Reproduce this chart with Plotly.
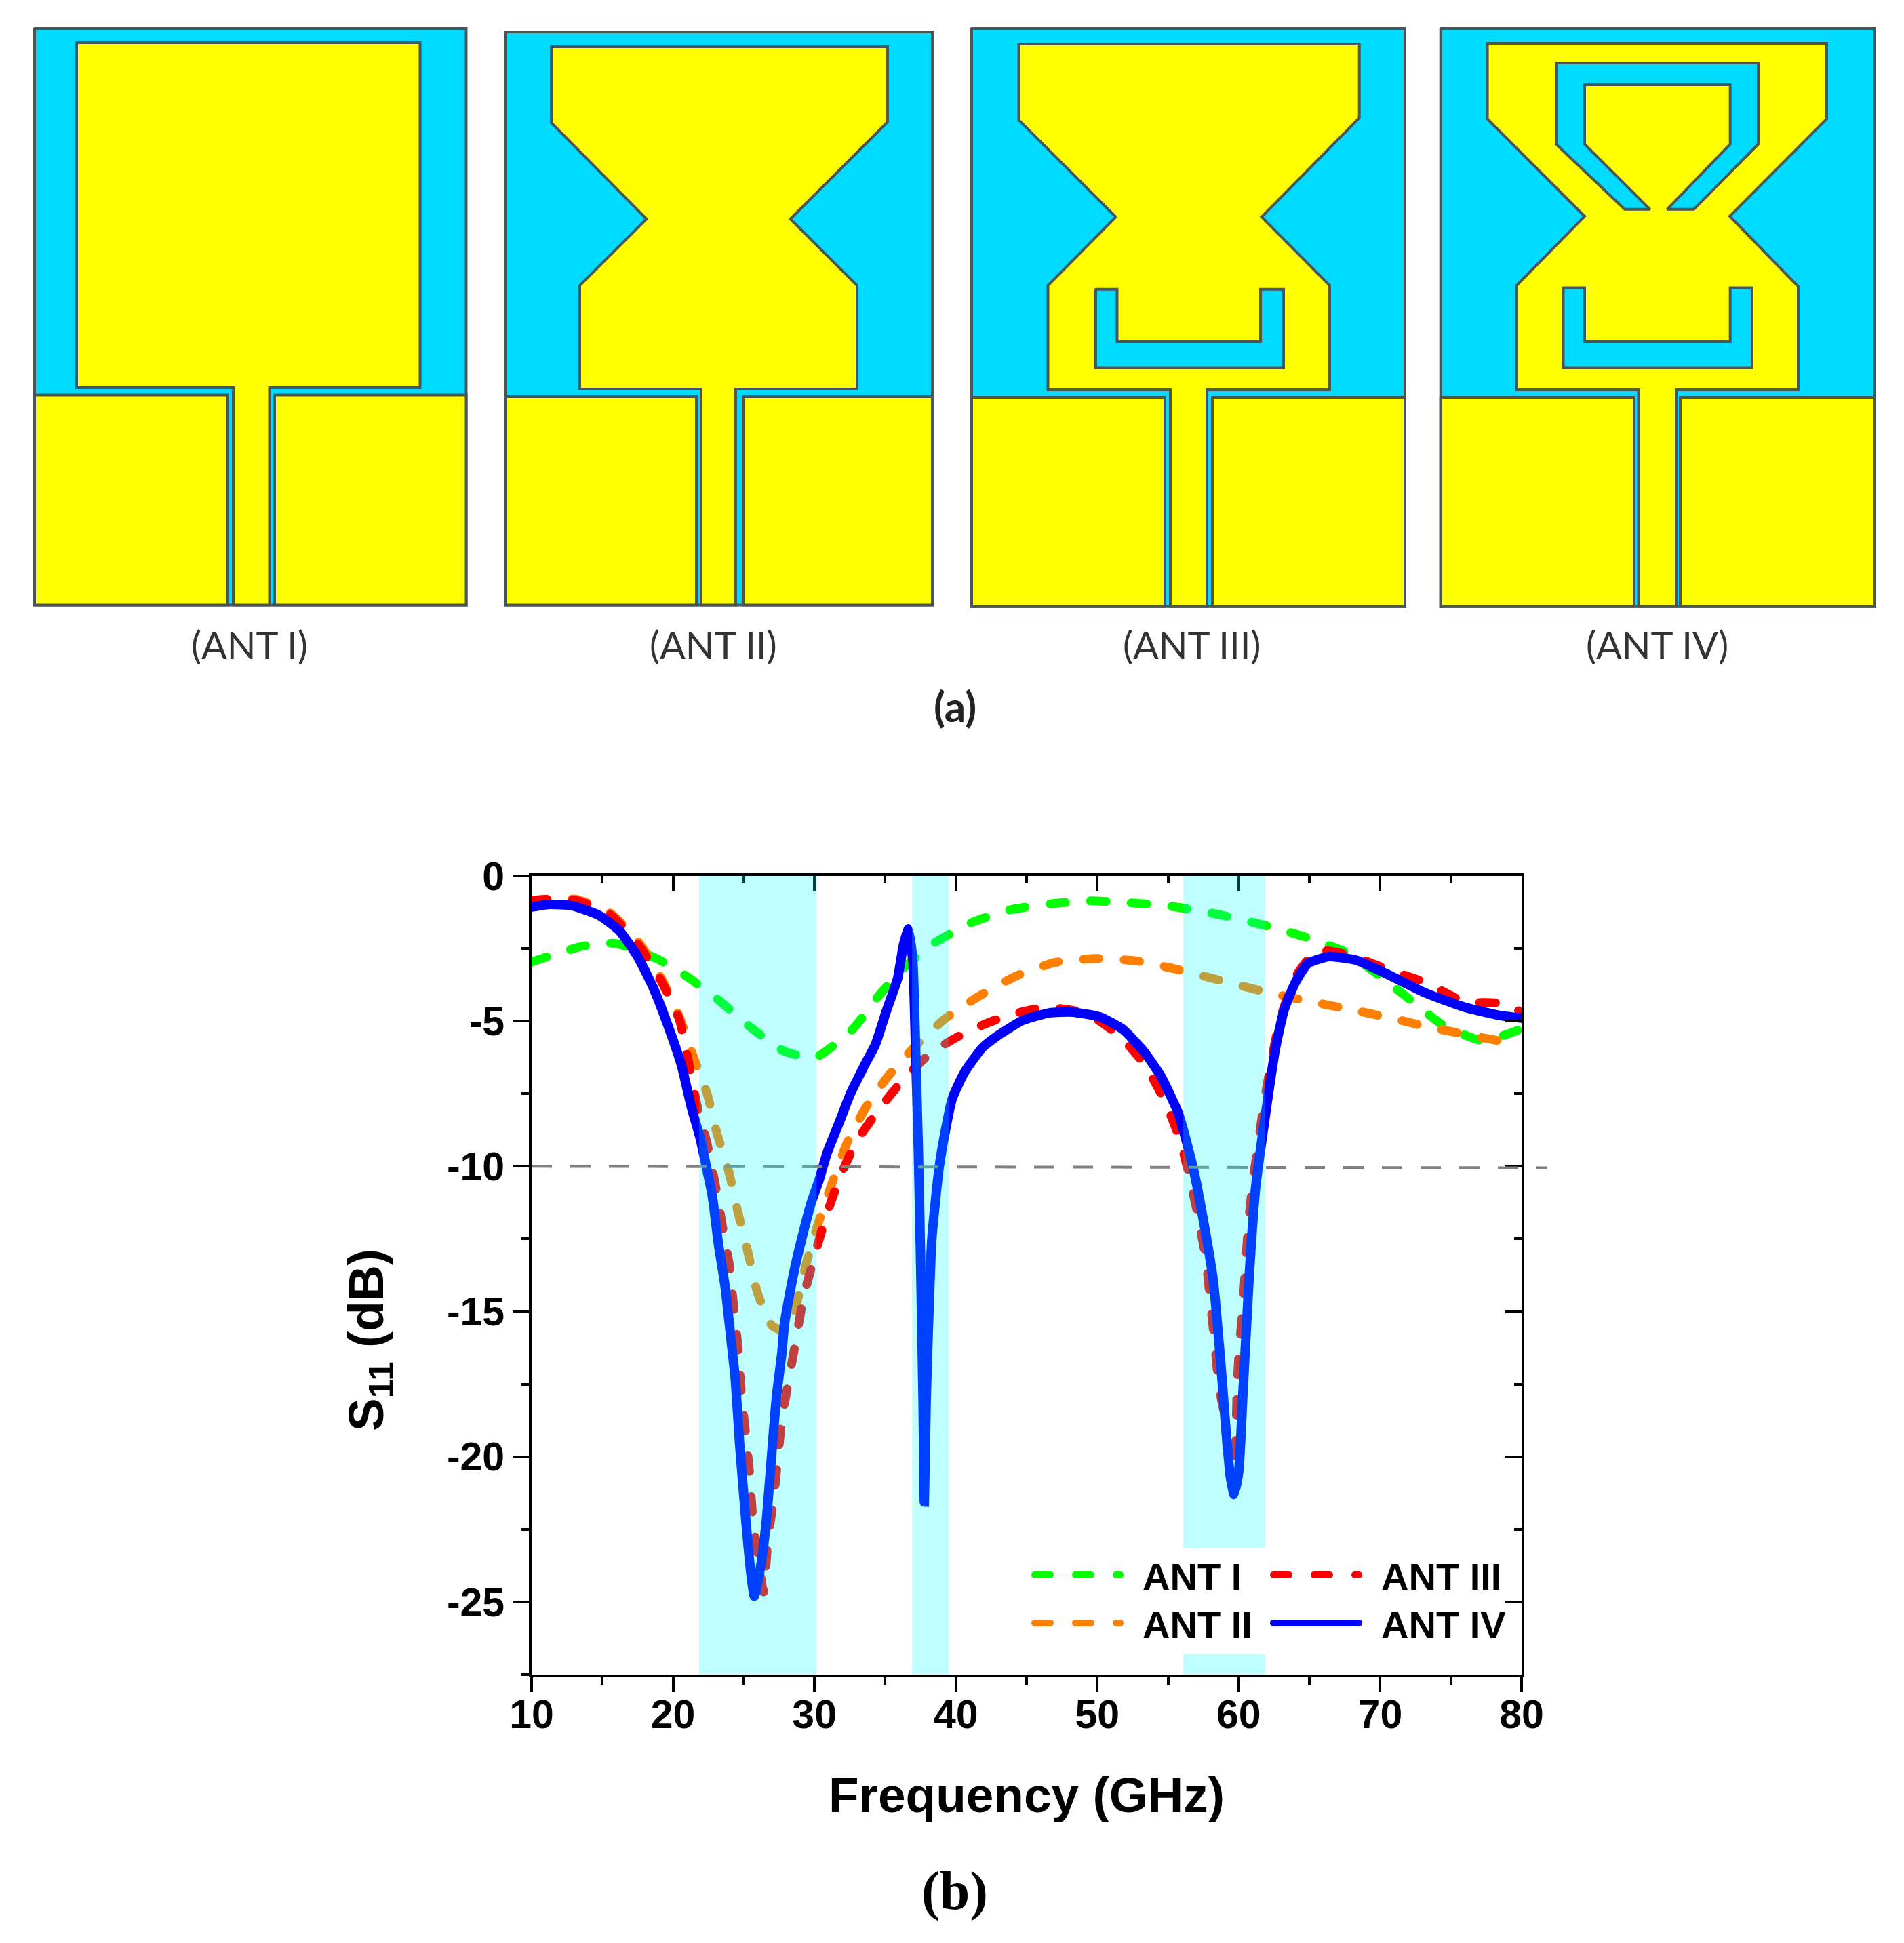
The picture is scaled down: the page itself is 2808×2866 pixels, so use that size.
import plotly.graph_objects as go

# ======================
# Measured S11 curves (frequency in GHz, level in dB)
# ======================
freq_1 = [10, 13.6, 15.9, 18.9, 21.06, 23.26, 25.35, 27.8, 30, 32.7, 34.5, 36.5, 38.5, 41.1, 43.8, 46.7, 49.5,
          52.4, 55.3, 58.8, 62.3, 65.2, 67.7, 70.1, 72.2, 74.5, 77.3, 79.6, 80]
ant_1 = [-2.96, -2.42, -2.32, -2.86, -3.49, -4.29, -5.16, -6.02, -6.27, -5.28, -4.15, -3.08, -2.3, -1.61, -1.17,
         -0.96, -0.86, -0.93, -1.05, -1.35, -1.76, -2.18, -2.66, -3.49, -4.29, -5.16, -5.68, -5.34, -5.25]

freq_2 = [10, 11.5, 13.2, 15.6, 17.6, 19.2, 20.45, 21.4, 22.4, 23.1, 23.95, 24.6, 25.3, 25.95, 26.97, 28, 28.7, 29.5,
          30.35, 31.3, 32.3, 33.6, 35.2, 37.1, 39.2, 41.6, 44.2, 47, 49.9, 52.8, 55.5, 58.8, 62.2, 65, 67.9, 70.8,
          73.6, 76.4, 79.3, 80]
ant_2 = [-0.9, -0.8, -0.81, -1.29, -2.3, -3.55, -4.86, -6.17, -7.48, -8.85, -10.2, -11.6, -12.97, -14.32, -15.47,
         -15.7, -14.8, -13.2, -11.84, -10.5, -9.2, -8.0, -6.9, -5.88, -4.93, -4.15, -3.46, -2.98, -2.84, -2.93,
         -3.2, -3.61, -4.03, -4.32, -4.6, -4.9, -5.22, -5.49, -5.76, -5.82]

freq_3 = [10, 10.7, 13.2, 15.6, 17.6, 19.2, 20.45, 21.7, 22.4, 23, 23.5, 24, 24.3, 24.6, 24.8, 25.1, 25.4, 25.6, 25.9,
          26.4, 26.7, 27.1, 27.4, 27.7, 28.2, 28.7, 29.2, 29.94, 30.75, 31.7, 32.9, 34.5, 36.3, 38.3, 40.9, 43.7,
          46.4, 49.3, 51.6, 53.4, 54.8, 55.9, 56.6, 57.2, 57.7, 58, 58.3, 58.6, 59.1, 59.2, 59.65, 59.9, 60.05, 60.3,
          60.5, 60.7, 61, 61.4, 61.8, 62.3, 62.9, 64, 65.5, 67.7, 70.7, 73.2, 75.9, 78.6, 80]
ant_3 = [-0.85, -0.81, -0.85, -1.35, -2.4, -3.65, -4.95, -7.9, -9.2, -10.65, -12.08, -13.45, -14.88, -16.25, -17.64,
         -19.06, -20.48, -21.86, -23.1, -24.65, -22.9, -21.5, -20.1, -18.7, -17.3, -15.96, -14.56, -13.2, -11.83,
         -10.5, -9.2, -8.08, -7.0, -6.07, -5.34, -4.8, -4.53, -4.74, -5.52, -6.53, -7.78, -9.16, -10.53, -11.9,
         -13.27, -14.7, -16.07, -17.57, -18.86, -20.03, -21.0, -17.4, -16.25, -14.76, -13.27, -11.9, -10.53, -9.16,
         -7.78, -6.41, -4.98, -3.49, -2.57, -2.71, -3.25, -3.67, -4.32, -4.39, -4.7]

freq_4 = [10, 11.3, 12.9, 14.75, 16.2, 17.5, 18.6, 19.6, 20.6, 21.3, 21.9, 22.35, 22.8, 23.2, 23.7, 24.14, 24.4, 24.7,
          25.15, 25.5, 25.75, 26.2, 26.6, 27, 27.3, 27.7, 27.87, 28.17, 28.58, 29.06, 29.78, 30.33, 30.9, 31.8, 32.56,
          33.66, 34.3, 35.1, 35.87, 36.3, 36.65, 36.96, 37.15, 37.35, 37.5, 37.68, 37.77, 37.9, 38.1, 38.3, 38.8, 39.2,
          39.75, 40.6, 41.85, 42.9, 44.7, 46.6, 48.25, 50.2, 51.8, 53.3, 54.5, 55.75, 56.8, 57.6, 58.2, 58.75, 59.1,
          59.4, 59.67, 60, 60.3, 60.75, 61.2, 62, 62.6, 63.2, 64, 64.9, 66.4, 68.3, 70.4, 73.2, 75.9, 78.4, 80]
ant_4 = [-1.07, -0.98, -1.03, -1.35, -1.88, -2.78, -3.85, -5.1, -6.53, -7.97, -9.0, -10, -11.09, -12.64, -14.2, -16.15,
         -17.3, -19.5, -22.2, -24, -24.8, -23.76, -22.2, -19.76, -18, -16.4, -15.45, -14.6, -13.57, -12.57, -11.24,
         -10.47, -9.53, -8.43, -7.48, -6.41, -5.82, -4.63, -3.55, -2.36, -1.82, -2.96, -5.93, -9.5, -13.1, -18, -21.56,
         -18, -14.9, -12.5, -10.1, -8.92, -7.66, -6.77, -5.93, -5.52, -4.98, -4.72, -4.69, -4.86, -5.28, -6.05, -6.9,
         -8.2, -10.1, -12.13, -13.93, -16.9, -19.1, -20.67, -21.3, -20.5, -17.8, -13.7, -10.7, -7.85, -5.93, -4.63,
         -3.67, -3.01, -2.78, -2.9, -3.36, -4.03, -4.51, -4.8, -4.9]

# shaded bands (GHz, dB); the last one is interrupted behind the legend
bands = [(21.84, 30.16, -27.5, 0), (36.9, 39.5, -27.5, 0), (56.07, 61.85, -23.15, 0), (56.07, 61.85, -27.5, -26.78)]
ref_x = [10, 81.8]
ref_y = [-10, -10.05]

x_ticks = [10, 20, 30, 40, 50, 60, 70, 80]
y_ticks = [0, -5, -10, -15, -20, -25]
y_labels = ["0", "-5", "-10", "-15", "-20", "-25"]

# ======================
# Antenna layouts, drawn on a pixel axis (x, y pairs)
# ======================
board_1 = [(51, 42), (687.5, 42), (687.5, 892.6), (51, 892.6)]
gnd_1 = [[(51, 582.5), (336, 582.5), (336, 892.6), (51, 892.6)],
         [(405, 582.5), (687.5, 582.5), (687.5, 892.6), (405, 892.6)]]
patch_1 = [(113, 63), (619.5, 63), (619.5, 572), (397.5, 572), (397.5, 892.6), (344, 892.6), (344, 572), (113, 572)]

board_2 = [(745, 47), (1375, 47), (1375, 892.6), (745, 892.6)]
gnd_2 = [[(745, 585), (1027, 585), (1027, 892.6), (745, 892.6)],
         [(1096, 585), (1375, 585), (1375, 892.6), (1096, 892.6)]]
patch_2 = [(813, 69), (1309, 69), (1309, 180), (1165.6, 323), (1264, 421), (1264, 574), (1085, 574), (1085, 892.6),
           (1034, 892.6), (1034, 574), (855, 574), (855, 421), (953.5, 323), (813, 181)]

board_3 = [(1433, 42), (2072, 42), (2072, 894.7), (1433, 894.7)]
gnd_3 = [[(1433, 586), (1718, 586), (1718, 894.7), (1433, 894.7)],
         [(1788, 586), (2072, 586), (2072, 894.7), (1788, 894.7)]]
patch_3 = [(1502.5, 65), (2004.7, 65), (2004.7, 174), (1860.6, 320), (1961, 421), (1961, 575), (1780, 575),
           (1780, 894.7), (1726, 894.7), (1726, 575), (1545.5, 575), (1545.5, 421), (1645.7, 320), (1502.5, 177)]
slot_3 = [[(1616, 426.7), (1647.5, 426.7), (1647.5, 504), (1859, 504), (1859, 426.7), (1893, 426.7), (1893, 542.5),
           (1616, 542.5)]]

board_4 = [(2124.7, 42), (2765, 42), (2765, 894.7), (2124.7, 894.7)]
gnd_4 = [[(2124.7, 586), (2410, 586), (2410, 894.7), (2124.7, 894.7)],
         [(2478, 586), (2765, 586), (2765, 894.7), (2478, 894.7)]]
patch_4 = [(2193.6, 64), (2694, 64), (2694, 175.4), (2551, 319), (2652, 422.5), (2652, 575), (2472, 575),
           (2472, 894.7), (2416.5, 894.7), (2416.5, 575), (2236.6, 575), (2236.6, 421), (2337, 319), (2193.6, 175.4)]
slot_4 = [[(2295, 93), (2593, 93), (2593, 212.6), (2498, 308.8), (2458.6, 308.8), (2551.7, 212.6), (2551.7, 125),
           (2337, 125), (2337, 212.6), (2433.5, 308.8), (2396, 308.8), (2295, 212.6)],
          [(2305.5, 424.6), (2337, 424.6), (2337, 504), (2551.7, 504), (2551.7, 424.6), (2584, 424.6), (2584, 542.5),
           (2305.5, 542.5)]]

panel_names = ["(ANT I)", "(ANT II)", "(ANT III)", "(ANT IV)"]
panel_x = [368, 1052, 1757, 2444]

W, H = 2808, 2866
PLOT_L, PLOT_R = 784, 2244
CYAN = "#00DCFF"
YELLOW = "#FFFF00"
EDGE = "#4A5558"
AXIS_FONT = dict(family="Liberation Sans", color="black", weight="bold")


def add_poly(fig, pts, color):
    xs = [p[0] for p in pts] + [pts[0][0]]
    ys = [p[1] for p in pts] + [pts[0][1]]
    fig.add_trace(go.Scatter(
        x=xs, y=ys, mode="lines", fill="toself", fillcolor=color,
        line=dict(color=EDGE, width=4),
        xaxis="x2", yaxis="y2", showlegend=False, hoverinfo="skip"
    ))


def ghz_to_paper(f):
    return (PLOT_L + (f - 10) / 70 * (PLOT_R - PLOT_L)) / W


def legend_box(left, row_y):
    # one legend per entry, the row spacing of a shared legend is too wide
    return dict(x=left / W, xanchor="left", y=1 - row_y / H, yanchor="middle", bgcolor="rgba(0,0,0,0)", borderwidth=0,
                itemwidth=126, font=dict(size=56, **AXIS_FONT))


fig = go.Figure()

# === Top row: the four antennas ===
for board, gnds, patch, slots in [
    (board_1, gnd_1, patch_1, []),
    (board_2, gnd_2, patch_2, []),
    (board_3, gnd_3, patch_3, slot_3),
    (board_4, gnd_4, patch_4, slot_4),
]:
    add_poly(fig, board, CYAN)
    for g in gnds:
        add_poly(fig, g, YELLOW)
    add_poly(fig, patch, YELLOW)
    for s in slots:
        add_poly(fig, s, CYAN)

# === Bottom: S11 curves ===
DASH = "23px,37px"
fig.add_trace(go.Scatter(x=freq_1, y=ant_1, mode="lines", name="\u2002ANT I", legend="legend",
                         line=dict(color="#00FF00", width=13, dash=DASH, shape="spline", smoothing=0.5)))
fig.add_trace(go.Scatter(x=freq_2, y=ant_2, mode="lines", name="\u2002ANT II", legend="legend2",
                         line=dict(color="#FF8000", width=13, dash=DASH, shape="spline", smoothing=0.5)))
fig.add_trace(go.Scatter(x=freq_3, y=ant_3, mode="lines", name="\u2002ANT III", legend="legend3",
                         line=dict(color="#FF0000", width=13, dash=DASH, shape="spline", smoothing=0.5)))
fig.add_trace(go.Scatter(x=freq_4, y=ant_4, mode="lines", name="\u2002ANT IV", legend="legend4",
                         line=dict(color="#0000FF", width=14, shape="spline", smoothing=0.5)))
# only there to carry the inward ticks of the top and right axes
fig.add_trace(go.Scatter(x=[None], y=[None], xaxis="x3", yaxis="y3", showlegend=False, hoverinfo="skip"))

# the reference line runs past the right axis, so paper in x
fig.add_shape(type="line", xref="paper", yref="y", x0=ghz_to_paper(ref_x[0]), x1=ghz_to_paper(ref_x[1]),
              y0=ref_y[0], y1=ref_y[1], line=dict(color="#808080", width=4, dash="30px,27px"), layer="above")

# bands sit over the curves, that is what tints them
for lo, hi, bottom, top in bands:
    fig.add_shape(type="rect", xref="x", yref="y", x0=lo, x1=hi, y0=bottom, y1=top,
                  fillcolor="rgba(0,255,255,0.25)", line_width=0, layer="above")

for name, px in zip(panel_names, panel_x):
    fig.add_annotation(xref="x2", yref="y2", x=px, y=950, text=name, showarrow=False,
                       font=dict(family="Lato", size=56, color="#333333"))
fig.add_annotation(xref="x2", yref="y2", x=1408, y=1041, text="(a)", showarrow=False,
                   font=dict(family="Lato", size=62, color="#222222", weight="bold"))
fig.add_annotation(xref="x2", yref="y2", x=1408, y=2789, text="(b)", showarrow=False,
                   font=dict(family="Liberation Serif", size=80, color="black", weight="bold"))
fig.add_annotation(xref="x2", yref="y2", x=545, y=1977, text="S<sub>11</sub> (dB)", showarrow=False, textangle=-90,
                   font=dict(size=73, **AXIS_FONT))

minor_x = dict(dtick=5, ticks="outside", ticklen=11, tickwidth=4, tickcolor="black")
minor_y = dict(dtick=2.5, ticks="outside", ticklen=11, tickwidth=4, tickcolor="black")

fig.update_layout(
    template="none",
    width=W,
    height=H,
    margin=dict(l=0, r=0, t=0, b=0, autoexpand=False),
    paper_bgcolor="white",
    plot_bgcolor="rgba(0,0,0,0)",
    xaxis=dict(
        domain=[PLOT_L / W, PLOT_R / W], range=[10, 80], tickvals=x_ticks,
        ticks="outside", ticklen=22, tickwidth=4, tickcolor="black", ticklabelstandoff=-18,
        showline=True, linecolor="black", linewidth=4, mirror=True, showgrid=False, zeroline=False,
        minor=minor_x, tickfont=dict(size=59, **AXIS_FONT),
        title=dict(text="Frequency (GHz)", font=dict(size=73, **AXIS_FONT), standoff=62),
    ),
    yaxis=dict(
        domain=[1 - 2470 / H, 1 - 1292 / H], range=[-27.5, 0], tickvals=y_ticks, ticktext=y_labels,
        ticks="outside", ticklen=24, tickwidth=4, tickcolor="black",
        showline=True, linecolor="black", linewidth=4, mirror=True, showgrid=False, zeroline=False,
        minor=minor_y, tickfont=dict(size=59, **AXIS_FONT),
    ),
    xaxis2=dict(domain=[0, 1], range=[0, W], visible=False, anchor="y2"),
    yaxis2=dict(domain=[0, 1], range=[H, 0], visible=False, anchor="x2"),
    xaxis3=dict(
        overlaying="x", anchor="y", side="top", range=[10, 80], tickvals=x_ticks,
        ticks="inside", ticklen=22, tickwidth=4, tickcolor="black", showticklabels=False,
        showgrid=False, zeroline=False, minor=dict(dtick=5, ticks="inside", ticklen=11, tickwidth=4, tickcolor="black"),
    ),
    yaxis3=dict(
        overlaying="y", anchor="x", side="right", range=[-27.5, 0], tickvals=y_ticks,
        ticks="inside", ticklen=24, tickwidth=4, tickcolor="black", showticklabels=False,
        showgrid=False, zeroline=False, minor=dict(dtick=2.5, ticks="inside", ticklen=11, tickwidth=4, tickcolor="black"),
    ),
    legend=legend_box(1521, 2323),
    legend2=legend_box(1521, 2394),
    legend3=legend_box(1873, 2323),
    legend4=legend_box(1873, 2394),
)

fig.write_html("out.html", config={"displayModeBar": False},
               post_script="document.body.style.margin='0';document.body.style.overflow='hidden';"
                           "document.querySelectorAll('.js-line').forEach(function(p){p.style.strokeLinecap='round';});")
